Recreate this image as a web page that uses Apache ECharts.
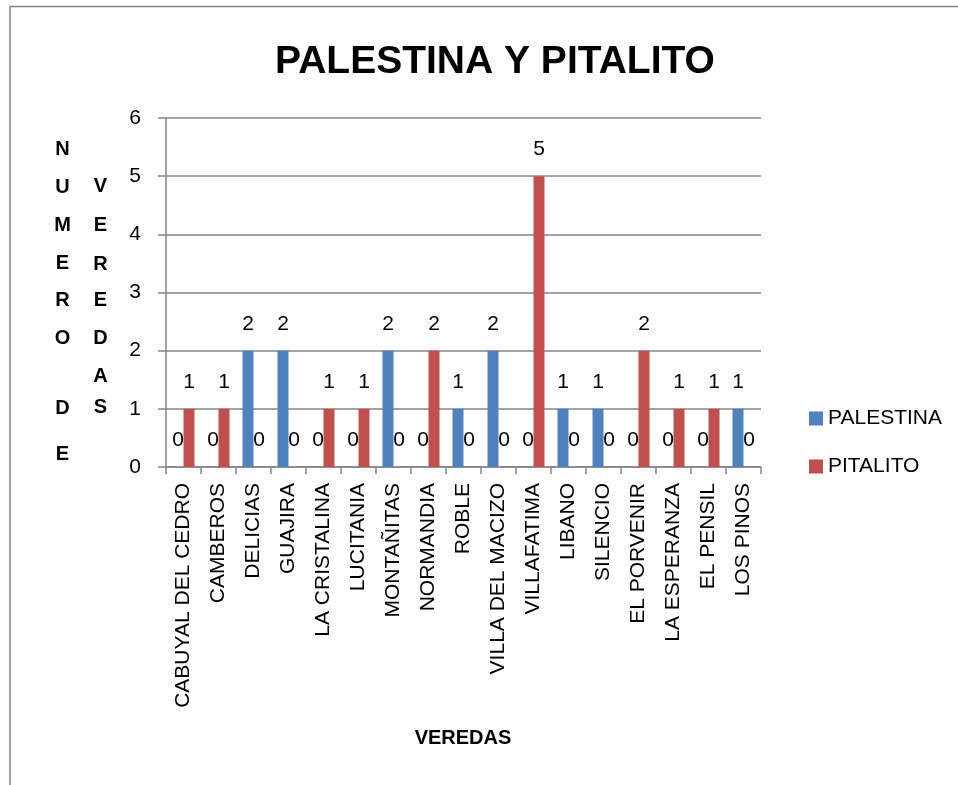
<!DOCTYPE html>
<html>
<head>
<meta charset="utf-8">
<title>PALESTINA Y PITALITO</title>
<script src="https://cdn.jsdelivr.net/npm/echarts@6/dist/echarts.min.js"></script>
<style>
  html, body { margin: 0; padding: 0; background: #ffffff; }
  #chart { width: 958px; height: 785px; }
</style>
</head>
<body>
<div id="chart"></div>
<script>
// Veredas y número de veredas por municipio
const veredas = [
  'CABUYAL DEL CEDRO', 'CAMBEROS', 'DELICIAS', 'GUAJIRA', 'LA CRISTALINA',
  'LUCITANIA', 'MONTAÑITAS', 'NORMANDIA', 'ROBLE', 'VILLA DEL MACIZO',
  'VILLAFATIMA', 'LIBANO', 'SILENCIO', 'EL PORVENIR', 'LA ESPERANZA',
  'EL PENSIL', 'LOS PINOS'
];
const palestina = [0, 0, 2, 2, 0, 0, 2, 0, 1, 2, 0, 1, 1, 0, 0, 0, 1];
const pitalito  = [1, 1, 0, 0, 1, 1, 0, 2, 0, 0, 5, 0, 0, 2, 1, 1, 0];
const yTicks = [0, 1, 2, 3, 4, 5, 6];

const FONT = '"Liberation Sans", Arial, sans-serif';
const GRAY = '#868686';

// Vertical axis title, one letter per line in two columns
const col1 = [['N', 149], ['U', 187], ['M', 225], ['E', 263.5], ['R', 300], ['O', 338], ['D', 408], ['E', 454.5]];
const col2 = [['V', 186], ['E', 225], ['R', 264], ['E', 300], ['D', 338], ['A', 376.5], ['S', 407.5]];

function letterEls(col, x) {
  return col.map(([ch, y]) => ({
    type: 'text',
    x: x, y: y,
    style: {
      text: ch, font: 'bold 20px ' + FONT, fill: '#000',
      align: 'center', verticalAlign: 'middle'
    }
  }));
}

const chart = echarts.init(document.getElementById('chart'), null, { renderer: 'canvas' });

const labelStyle = {
  show: true, position: 'top', distance: 16,
  color: '#000', fontFamily: FONT, fontSize: 21
};

chart.setOption({
  animation: false,
  backgroundColor: '#ffffff',
  title: {
    text: 'PALESTINA Y PITALITO',
    left: 490, top: 57, textAlign: 'center', textVerticalAlign: 'middle',
    textStyle: { fontFamily: FONT, fontWeight: 'bold', fontSize: 39, color: '#000' }
  },
  legend: {
    orient: 'vertical', left: 804, top: 403,
    itemWidth: 14, itemHeight: 14, itemGap: 27,
    icon: 'rect',
    textStyle: { fontFamily: FONT, fontSize: 21, color: '#000', padding: [0, 0, 0, 0] },
    data: ['PALESTINA', 'PITALITO']
  },
  grid: { left: 166, right: 197, top: 118, bottom: 318, containLabel: false },
  xAxis: {
    type: 'category',
    data: veredas,
    boundaryGap: true,
    axisLine: { show: true, lineStyle: { color: GRAY, width: 1.5 } },
    axisTick: { show: true, length: 7, alignWithLabel: false, interval: 0, lineStyle: { color: GRAY, width: 1.5 } },
    axisLabel: {
      interval: 0, rotate: 90, margin: 16,
      fontFamily: FONT, fontSize: 21, color: '#000'
    },
    splitLine: { show: false }
  },
  yAxis: {
    type: 'value',
    min: yTicks[0], max: yTicks[yTicks.length - 1], interval: 1,
    axisLine: { show: true, lineStyle: { color: GRAY, width: 1.5 } },
    axisTick: { show: true, length: 8, lineStyle: { color: GRAY, width: 1.5 } },
    axisLabel: { margin: 25, fontFamily: FONT, fontSize: 21, color: '#000' },
    splitLine: { show: true, lineStyle: { color: GRAY, width: 1.5 } }
  },
  series: [
    {
      name: 'PALESTINA', type: 'bar', data: palestina,
      barWidth: 11, barGap: '0%',
      itemStyle: { color: '#4F81BD' },
      label: labelStyle
    },
    {
      name: 'PITALITO', type: 'bar', data: pitalito,
      barWidth: 11, barGap: '0%',
      itemStyle: { color: '#C0504D' },
      label: labelStyle
    }
  ],
  graphic: [
    // chart frame
    {
      type: 'polyline',
      shape: { points: [[10, 785], [10, 6.5], [958, 6.5]] },
      style: { stroke: GRAY, lineWidth: 1.5, fill: null }
    },
    {
      type: 'text', x: 463, y: 738,
      style: {
        text: 'VEREDAS', font: 'bold 20px ' + FONT, fill: '#000',
        align: 'center', verticalAlign: 'middle'
      }
    },
    ...letterEls(col1, 62.5),
    ...letterEls(col2, 100.5)
  ]
});
</script>
</body>
</html>
